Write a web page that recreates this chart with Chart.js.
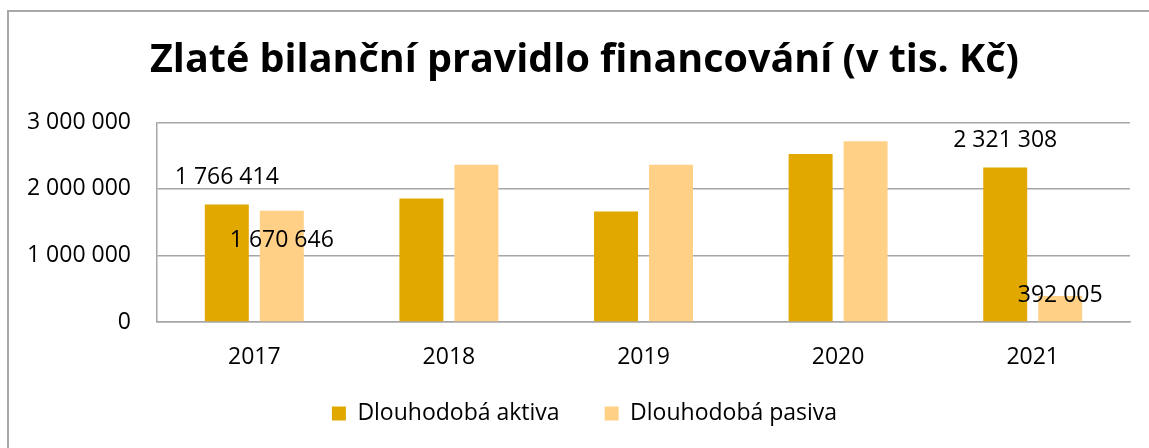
<!DOCTYPE html>
<html><head><meta charset="utf-8">
<script src="https://cdn.jsdelivr.net/npm/chart.js@4"></script>
<style>html,body{margin:0;padding:0;background:#fff;overflow:hidden}#wrap{position:relative;width:1149px;height:448px}</style>
</head><body><div id="wrap"><canvas id="c" width="1149" height="448"></canvas></div>
<script>
const categories = ['2017', '2018', '2019', '2020', '2021'];
const aktiva = [1766414, 1855000, 1660000, 2525000, 2321308];
const pasiva = [1670646, 2365000, 2365000, 2715000, 392005];
const labelledAktiva = [true, false, false, false, true];
const labelledPasiva = [true, false, false, false, true];
const yTickValues = [0, 1000000, 2000000, 3000000];
const seriesNames = ['Dlouhodobá aktiva', 'Dlouhodobá pasiva'];
const chartTitle = 'Zlaté bilanční pravidlo financování (v tis. Kč)';

const fmt = v => String(v).replace(/\B(?=(\d{3})+(?!\d))/g, ' ');
const FONT = "'Open Sans', 'Liberation Sans', sans-serif";
const GRID = '#a6a6a6';

const framePlugin = {
  id: 'frame',
  beforeDraw(chart) {
    const ctx = chart.ctx;
    ctx.save();
    ctx.fillStyle = '#fff';
    ctx.fillRect(0, 0, chart.width, chart.height);
    ctx.strokeStyle = '#a8a8a8';
    ctx.lineWidth = 2;
    ctx.beginPath();
    ctx.moveTo(8, chart.height);
    ctx.lineTo(8, 11);
    ctx.lineTo(chart.width, 11);
    ctx.stroke();
    ctx.restore();
    // let category labels extend below the (short) x-axis box
    if (chart.scales.x) chart.scales.x._computeLabelArea = () => undefined;
  }
};

const valueLabels = {
  id: 'valueLabels',
  afterDatasetsDraw(chart, args, opts) {
    const ctx = chart.ctx;
    ctx.save();
    ctx.font = '23px ' + FONT;
    ctx.fillStyle = '#000';
    ctx.textAlign = 'center';
    ctx.textBaseline = 'middle';
    chart.data.datasets.forEach((ds, di) => {
      const meta = chart.getDatasetMeta(di);
      meta.data.forEach((bar, i) => {
        if (!opts.show[di][i]) return;
        ctx.fillText(fmt(ds.data[i]), bar.x, bar.y + opts.offsets[di][i]);
      });
    });
    ctx.restore();
  }
};

new Chart(document.getElementById('c'), {
  type: 'bar',
  data: {
    labels: categories,
    datasets: [
      { label: seriesNames[0], data: aktiva, backgroundColor: '#E1A800', borderWidth: 0,
        categoryPercentage: 0.565, barPercentage: 0.8 },
      { label: seriesNames[1], data: pasiva, backgroundColor: '#FFD085', borderWidth: 0,
        categoryPercentage: 0.565, barPercentage: 0.8 }
    ]
  },
  options: {
    responsive: false,
    animation: false,
    layout: { padding: { left: 20, right: 0, top: 0, bottom: 13 } },
    plugins: {
      title: {
        display: true, text: chartTitle, color: '#000',
        font: { family: FONT, size: 39.5, weight: 'bold' },
        padding: { top: 37, bottom: 38 }
      },
      legend: {
        position: 'bottom',
        labels: { boxWidth: 14, boxHeight: 14, padding: 45, color: '#000',
                  font: { family: FONT, size: 23 } }
      },
      tooltip: { enabled: false },
      valueLabels: { show: [labelledAktiva, labelledPasiva], offsets: [[-27, 0, 0, 0, -27], [30, 0, 0, 0, 0]] }
    },
    scales: {
      x: {
        grid: { display: false, drawTicks: false },
        border: { display: true, color: GRID, width: 1.5 },
        ticks: { color: '#000', font: { family: FONT, size: 23 }, padding: 22 },
        afterFit(s) { s.height = 35; }
      },
      y: {
        min: 0, max: 3000000,
        afterBuildTicks(s) { s.ticks = yTickValues.map(v => ({ value: v })); },
        grid: { color: GRID, lineWidth: 1.5, drawTicks: false },
        border: { display: true, color: GRID, width: 1.5 },
        ticks: { color: '#000', font: { family: FONT, size: 23 }, padding: 26, callback: v => fmt(v) },
        afterFit(s) { s.width = 137; }
      },
      yRight: {
        position: 'right', display: true,
        grid: { display: false, drawTicks: false },
        border: { display: false },
        ticks: { display: false },
        afterFit(s) { s.width = 19; }
      }
    }
  },
  plugins: [framePlugin, valueLabels]
});
</script></body></html>
